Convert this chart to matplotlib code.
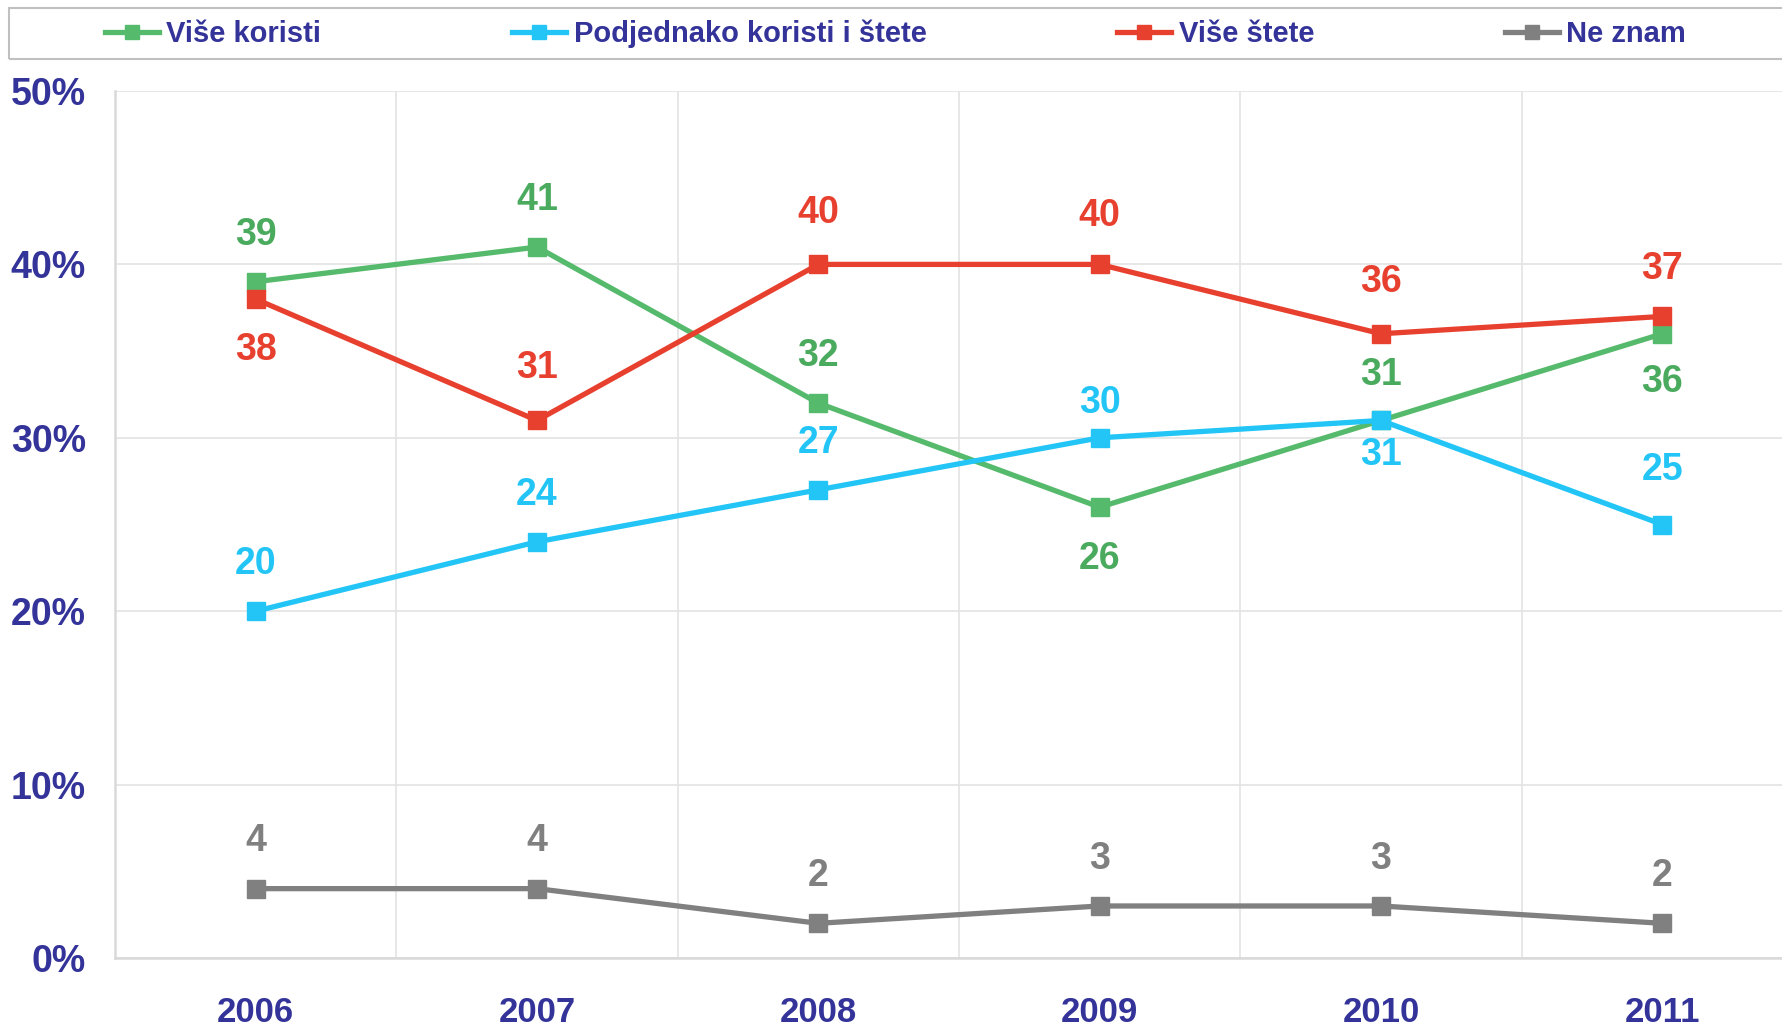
import numpy as np
import matplotlib.pyplot as plt
from matplotlib.patches import Rectangle

# 데이터
years = ["2006", "2007", "2008", "2009", "2010", "2011"]
vise_koristi = [39, 41, 32, 26, 31, 36]
podjednako = [20, 24, 27, 30, 31, 25]
vise_stete = [38, 31, 40, 40, 36, 37]
ne_znam = [4, 4, 2, 3, 3, 2]

series_names = ["Više koristi", "Podjednako koristi i štete", "Više štete", "Ne znam"]
y_ticks = [0, 10, 20, 30, 40, 50]

# 스타일
line_colors = ["#55BA6B", "#22C5F6", "#E8402F", "#808080"]
label_colors = ["#4AAA5E", "#22C5F6", "#E8402F", "#808080"]
# 라벨 위치 (points, +위 / -아래)
label_offsets = [
    [34, 34, 34, -37, 33, -35],
    [34, 34, 34, 25, -25, 39],
    [-37, 38, 37, 35, 37, 34],
    [34, 34, 34, 34, 34, 34],
]
text_blue = "#333399"

plt.rcParams['font.family'] = ['Liberation Sans', 'DejaVu Sans']
plt.rcParams['font.weight'] = 'bold'

fig = plt.figure(figsize=(17.82, 10.29), dpi=100)
ax = fig.add_axes([115 / 1782, 1 - 958 / 1029, (1803 - 115) / 1782, (958 - 91) / 1029])

x = np.arange(len(years))
all_series = [vise_koristi, podjednako, vise_stete, ne_znam]

handles = []
for vals, name, lc, tc, offs in zip(all_series, series_names, line_colors, label_colors, label_offsets):
    h, = ax.plot(x, vals, color=lc, lw=3.8, marker='s', markersize=13, label=name, zorder=3)
    handles.append(h)
    for xi, v, o in zip(x, vals, offs):
        ax.annotate(str(v), (xi, v), xytext=(0, o), textcoords='offset points',
                    ha='center', va='center', fontsize=27, fontweight='bold', color=tc)

ax.set_xlim(-0.5, len(years) - 0.5)
ax.set_ylim(0, 50)
ax.set_xticks(x)
ax.set_xticklabels(years)
ax.set_xticks(np.arange(0.5, len(years) - 0.5), minor=True)
ax.set_yticks(y_ticks)
ax.set_yticklabels([f"{t}%" for t in y_ticks])

ax.tick_params(axis='both', which='both', length=0)
ax.tick_params(axis='y', labelsize=27, labelcolor=text_blue, pad=21)
ax.tick_params(axis='x', labelsize=25, labelcolor=text_blue, pad=27)

ax.grid(axis='y', which='major', color='#E3E3E3', lw=1.2)
ax.grid(axis='x', which='minor', color='#E3E3E3', lw=1.2)
ax.set_axisbelow(True)
for s in ['top', 'right']:
    ax.spines[s].set_visible(False)
for s in ['left', 'bottom']:
    ax.spines[s].set_color('#D9D9D9')
    ax.spines[s].set_linewidth(1.8)

# 범례 박스
fig.patches.append(Rectangle((9 / 1782, 1 - 59 / 1029), 1.2, 51 / 1029,
                             transform=fig.transFigure, fill=False,
                             edgecolor='#C0C0C0', lw=1.5))
leg = fig.legend(handles=handles, loc='center left', bbox_to_anchor=(105 / 1782, 1 - 34 / 1029),
                 ncol=4, frameon=False, fontsize=21, handlelength=1.85, handletextpad=0.25,
                 columnspacing=6.55, borderpad=0, borderaxespad=0, markerscale=0.75)
for t in leg.get_texts():
    t.set_color(text_blue)
    t.set_fontweight('bold')

fig.savefig("out.png", dpi=100)
